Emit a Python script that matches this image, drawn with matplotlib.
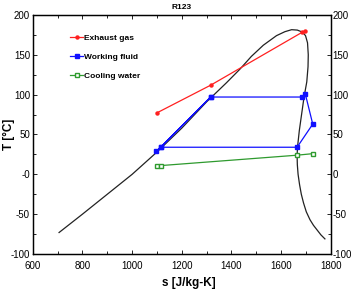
import matplotlib
matplotlib.use( "Agg" )
import matplotlib.pyplot as plt
from matplotlib.ticker import MultipleLocator, FixedLocator

plt.rcParams['font.family'] = ['Liberation Sans', 'DejaVu Sans']

# --- saturation dome of R123 --- #
dome_s = [ 706, 800, 900, 1000, 1100, 1200, 1300, 1380, 1434, 1480, 1528, 1581, 1615, 1642, 1665, 1685, 1698, 1706, 1709, 1708, 1703, 1692, 1682, 1673, 1666, 1664, 1665, 1668, 1674, 1681, 1690, 1701, 1716, 1730, 1745, 1760, 1776 ]
dome_T = [ -73, -50, -25, 0, 28, 58, 91, 115, 132, 148, 162, 174, 179, 181.5, 181, 178.5, 174, 165, 150, 135, 116, 97, 75, 55, 35, 24, 12, 0, -13, -25, -36, -47, -57, -64, -70, -76, -81 ]

# --- streams --- #
gas_s = [ 1099, 1317, 1683, 1697 ]
gas_T = [ 77, 112, 178, 180 ]

wf_s = [ 1316, 1098, 1116, 1316, 1683, 1697, 1727, 1664, 1116 ]
wf_T = [ 97, 29, 34, 97, 97, 101, 63, 34, 34 ]

cw_s = [ 1099, 1116, 1663, 1729 ]
cw_T = [ 10, 11, 24, 26 ]

yticks = [ -100, -50, 0, 50, 100, 150, 200 ]
yticks_left = [ "-100", "-50", "-0", "50", "100", "150", "200" ]
yticks_right = [ "-100", "-50", "0", "50", "100", "150", "200" ]
xticks = [ 600, 800, 1000, 1200, 1400, 1600, 1800 ]

fig = plt.figure( figsize=( 3.52, 2.93 ), dpi=100 )
ax = fig.add_axes( [ 0.093, 0.133, 0.847, 0.816 ] )

ax.plot( dome_s, dome_T, color="#222222", linewidth=0.9 )
ax.plot( gas_s, gas_T, color="#ff2020", linewidth=0.9, marker="o", markersize=2.2, label="Exhaust gas" )
ax.plot( wf_s, wf_T, color="#1010ff", linewidth=0.9, marker="s", markersize=3.2, label="Working fluid" )
ax.plot( cw_s, cw_T, color="#2e9a2e", linewidth=0.9, marker="s", markersize=3.2, markerfacecolor="white", label="Cooling water" )

ax.set_xlim( 600, 1800 )
ax.set_ylim( -100, 200 )
ax.xaxis.set_major_locator( FixedLocator( xticks ) )
ax.xaxis.set_minor_locator( MultipleLocator( 100 ) )
ax.yaxis.set_major_locator( FixedLocator( yticks ) )
ax.yaxis.set_minor_locator( MultipleLocator( 25 ) )
ax.set_yticklabels( yticks_left )
ax.tick_params( which="both", direction="in", top=True, right=False, labelsize=7, length=3, width=0.6, pad=2 )
ax.tick_params( axis="x", which="both", pad=5 )
ax.tick_params( which="minor", length=2 )

ax2 = ax.twinx()
ax2.set_ylim( -100, 200 )
ax2.yaxis.set_major_locator( FixedLocator( yticks ) )
ax2.yaxis.set_minor_locator( MultipleLocator( 25 ) )
ax2.set_yticklabels( yticks_right )
ax2.tick_params( which="both", direction="in", labelsize=7, length=3, width=0.6, pad=1 )
ax2.tick_params( which="minor", length=2 )

for a in ( ax, ax2 ):
	for sp in a.spines.values():
		sp.set_linewidth( 0.9 )

ax.set_xlabel( "s [J/kg-K]", fontsize=8.5, fontweight="bold" )
ax.xaxis.set_label_coords( 0.525, -0.095 )
ax.set_ylabel( "T [°C]", fontsize=8.5, fontweight="bold" )
ax.yaxis.set_label_coords( -0.06, 0.5 )
ax.set_title( "R123", fontsize=6, fontweight="bold", pad=4 )

leg = ax.legend( loc="upper left", bbox_to_anchor=( 0.1, 0.95 ), frameon=False, fontsize=6, handlelength=1.6, handletextpad=0.1, labelspacing=1.3 )
for t in leg.get_texts():
	t.set_fontweight( "bold" )

fig.savefig( "out.png", dpi=100 )
